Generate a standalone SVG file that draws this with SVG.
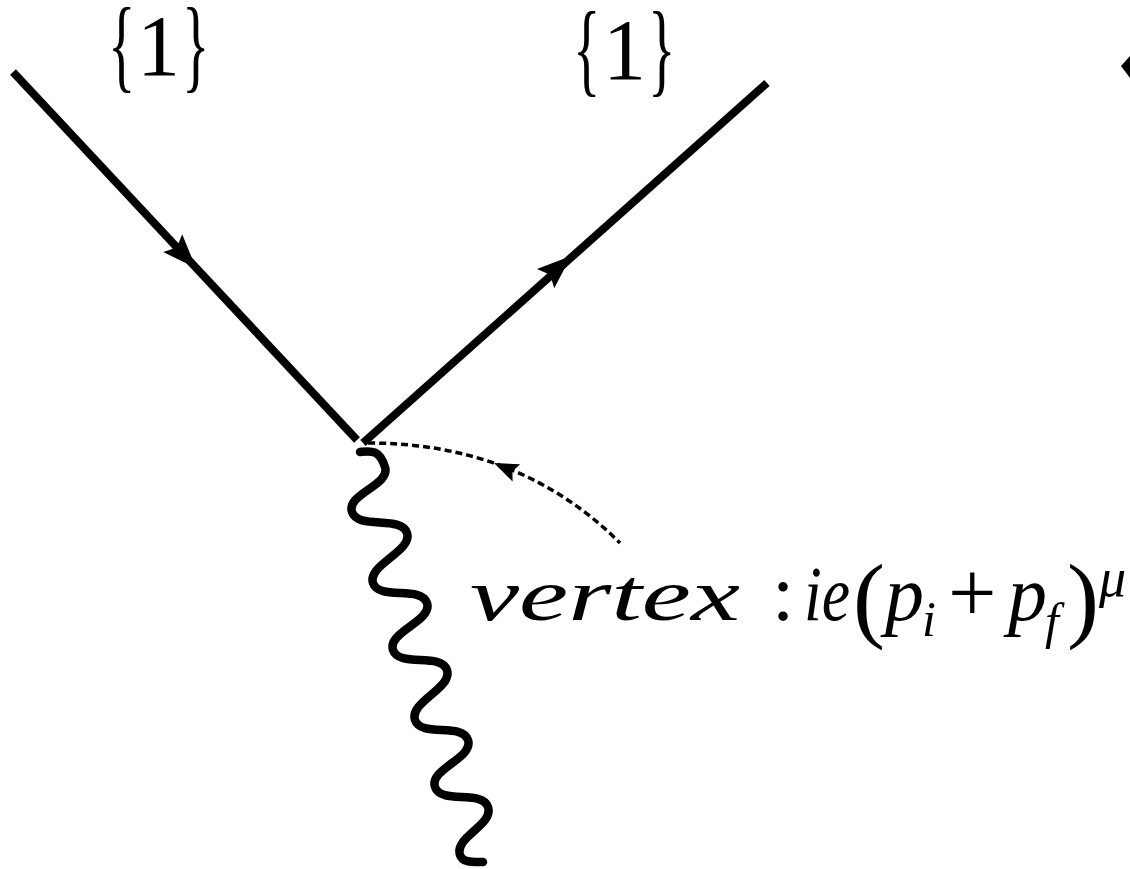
<svg xmlns="http://www.w3.org/2000/svg" width="1130" height="869" viewBox="0 0 1130 869">
<style>
.line{fill:none;stroke:#000;stroke-width:8;stroke-linecap:butt}
.wave{fill:none;stroke:#000;stroke-width:8.5;stroke-linecap:round;stroke-linejoin:round}
.dash{fill:none;stroke:#000;stroke-width:3.5;stroke-dasharray:7 4}
text{font-family:'Liberation Serif','DejaVu Serif',serif;fill:#000}
.it{font-style:italic}
.br{font-size:104px}
.one{font-size:86px}
</style>
<defs>
<path id="ah" d="M0,0 L-34,-13 L-28,0 L-34,13 Z" fill="#000"/>
</defs>
<rect width="1130" height="869" fill="#fff"/>
<g id="connectors">
<g id="incoming">
<line class="line" x1="13" y1="72" x2="357" y2="440"/>
<use href="#ah" transform="translate(196,268) rotate(46.8)"/>
</g>
<g id="outgoing">
<line class="line" x1="363" y1="443" x2="767" y2="83"/>
<use href="#ah" transform="translate(571,256) rotate(-41.7)"/>
</g>
<g id="photon">
<path class="wave" d="M360,452 C371,451 379,449 385,467 C391,485 346,494 352,512 C358,530 401,515 407,533 C413,551 367,565 373,583 C379,601 421,585 427,603 C433,621 387,632 393,650 C399,668 441,652 447,670 C453,688 409,702 415,720 C421,738 462,722 468,740 C474,758 429,769 435,787 C441,805 482,789 488,807 C494,825 454,837 460,855 C462.4,862.7 472,862 483,862"/>
</g>
<g id="pointer">
<path class="dash" d="M368,443 Q520,443 620,543"/>
<use href="#ah" transform="translate(494,463) rotate(203.9) scale(0.72)"/>
</g>
<path id="edge-mark" d="M1130,56 L1121,66 L1130,78 Z" fill="#000"/>
</g>
<g id="label-left">
<text class="br" transform="translate(108,79) scale(0.55,1)">{</text>
<text class="one" x="137" y="75">1</text>
<text class="br" transform="translate(182,79) scale(0.55,1)">}</text>
</g>
<g id="label-right">
<text class="br" transform="translate(573,83) scale(0.55,1)">{</text>
<text class="one" x="603" y="79">1</text>
<text class="br" transform="translate(648,83) scale(0.55,1)">}</text>
</g>
<g id="vertex-label">
<text class="it" x="470" y="620" font-size="74" textLength="270" lengthAdjust="spacingAndGlyphs">vertex</text>
<text x="772" y="620" font-size="80">:</text>
<text class="it" x="804" y="620" font-size="78" textLength="46" lengthAdjust="spacingAndGlyphs">ie</text>
<text x="853" y="630" font-size="96">(</text>
<text class="it" x="885" y="620" font-size="78">p</text>
<text class="it" x="922" y="636" font-size="50">i</text>
<text x="948" y="622" font-size="86">+</text>
<text class="it" x="1008" y="620" font-size="78">p</text>
<text class="it" x="1045" y="638" font-size="50">f</text>
<text x="1067" y="630" font-size="96">)</text>
<text class="it" x="1099" y="596" font-size="54">μ</text>
</g>
</svg>
